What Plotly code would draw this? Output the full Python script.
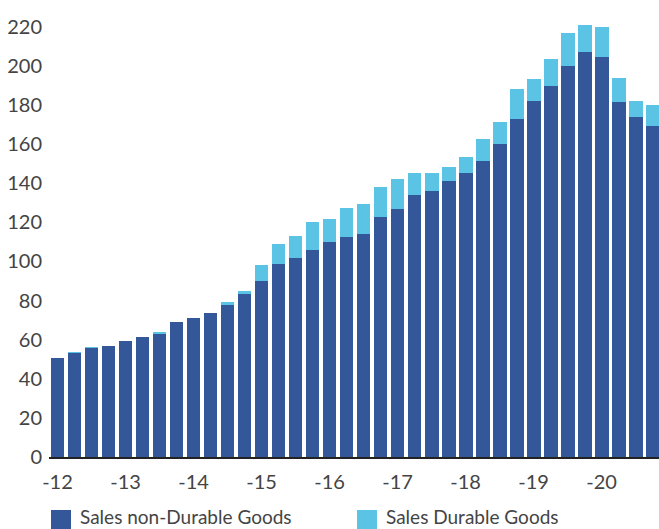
import plotly.graph_objects as go

years = list(range(2012, 2021))
quarters = [f"{y}Q{q}" for y in years for q in range(1, 5)]

non_durable = [50.6, 53.2, 55.8, 56.8, 59.3, 61.4, 63.4, 69.1, 71.1, 73.7, 77.7, 83.4,
               90.0, 98.7, 102.0, 106.0, 110.0, 112.5, 114.0, 122.8, 126.9, 134.0, 136.0, 141.2,
               145.3, 151.4, 160.1, 172.9, 182.1, 189.8, 200.0, 207.2, 204.6, 181.6, 174.0, 169.3]
durable = [0.0, 0.4, 0.4, 0.0, 0.0, 0.0, 0.4, 0.0, 0.0, 0.0, 1.6, 1.5,
           8.2, 10.3, 11.0, 14.0, 11.7, 14.9, 15.4, 15.2, 15.3, 11.3, 9.3, 7.1,
           8.2, 11.3, 11.3, 15.3, 11.3, 13.8, 16.9, 13.8, 15.4, 12.3, 8.1, 10.7]

tick_vals = [f"{y}Q1" for y in years]
tick_text = [f"-{y % 100}" for y in years]

names = ["Sales non-Durable Goods", "Sales Durable Goods"]
colors = ["#34579a", "#5bc4e5"]

FONT = "Lato, 'Open Sans', sans-serif"

fig = go.Figure()
fig.add_trace(go.Bar(x=quarters, y=non_durable, name=names[0], marker_color=colors[0],
                     marker_line_width=0, showlegend=False))
fig.add_trace(go.Bar(x=quarters, y=durable, name=names[1], marker_color=colors[1],
                     marker_line_width=0, showlegend=False))

# legend drawn as shapes + text
PW, PH, X0, Y0 = 610, 446, 49, 457
leg_x = [51, 357]
for i, (nm, c) in enumerate(zip(names, colors)):
    fig.add_shape(type="rect", xref="paper", yref="paper",
                  x0=(leg_x[i] - X0) / PW, x1=(leg_x[i] + 20 - X0) / PW,
                  y0=-(529 - Y0) / PH, y1=-(510 - Y0) / PH,
                  fillcolor=c, line_width=0)
    fig.add_annotation(xref="paper", yref="paper", x=(leg_x[i] + 27 - X0) / PW,
                       y=-(516 - Y0) / PH, text=nm, showarrow=False,
                       xanchor="left", yanchor="middle",
                       font=dict(family=FONT, size=19, color="#444444"))

fig.update_layout(
    barmode="stack",
    bargap=0.18,
    width=659, height=529,
    margin=dict(l=49, r=0, t=11, b=72),
    plot_bgcolor="white", paper_bgcolor="white",
    font=dict(family=FONT, size=20, color="#444444"),
    xaxis=dict(type="category", range=[-0.5, 35.38], tickmode="array",
               tickvals=tick_vals, ticktext=tick_text, showgrid=False,
               showline=True, linecolor="#222222", linewidth=2, ticks="",
               ticklabelstandoff=6, zeroline=False),
    yaxis=dict(range=[0, 228.1], tickmode="array", tickvals=list(range(0, 221, 20)),
               showgrid=False, showline=False, zeroline=False, ticks="",
               ticklabelstandoff=6),
)

fig.write_html("out.html")
